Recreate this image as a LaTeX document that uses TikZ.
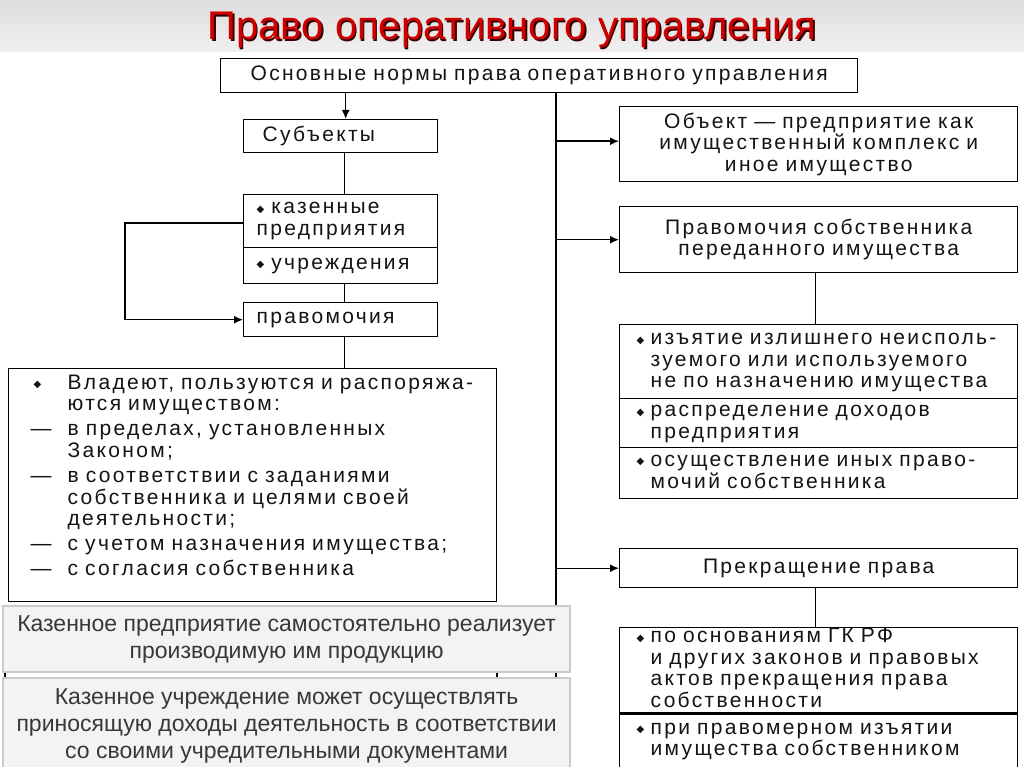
\documentclass[tikz,border=0pt]{standalone}
\usepackage{fontspec}
\usetikzlibrary{arrows.meta}
\newfontfamily\diag[LetterSpace=11]{Liberation Sans}
\newfontfamily\plainf{Liberation Sans}
\newfontfamily\djf{DejaVu Sans}
\newcommand\bul{\raisebox{1.5pt}{\djf\fontsize{10}{10}\selectfont ◆}}
\definecolor{titlered}{HTML}{D00000}
\definecolor{titleshadow}{HTML}{3A0000}
\definecolor{ovlfill}{HTML}{F3F3F3}
\definecolor{ovlline}{HTML}{CBCBCB}
\definecolor{ovltext}{HTML}{383838}
\begin{document}
\begin{tikzpicture}[x=1pt,y=-1pt,
  box/.style={draw, line width=1.4pt, anchor=north west, inner ysep=0pt,
    text=black!92, font=\diag\fontsize{21}{21.5}\selectfont},
  conn/.style={line width=1.4pt},
  arr/.style={line width=1.4pt, -{Latex[length=9pt,width=8pt]}},
  ovl/.style={draw=ovlline, fill=ovlfill, line width=2.2pt, anchor=north west,
    inner xsep=6pt, inner ysep=0pt, align=center, text=ovltext,
    font=\plainf\fontsize{23}{27}\selectfont},
  titlefont/.style={font=\plainf\fontsize{40}{44}\selectfont}
]
\useasboundingbox (0,0) rectangle (1024,767);
\clip (0,0) rectangle (1024,767);
\fill[white] (0,0) rectangle (1024,767);
\shade[top color=black!13, bottom color=black!6] (0,0) rectangle (1024,52);

% title
\node[titlefont, text=titleshadow] (titleshadow) at (513.5,31.5) {Право оперативного управления};
\node[titlefont, text=titlered] (title) at (512,30) {Право оперативного управления};

% top box
\node[box, text width=597pt, inner xsep=20pt, minimum height=34pt, align=center] (top) at (220,58)
  {Основные нормы права оперативного управления};

% left column
\node[box, text width=162pt, inner xsep=16pt, minimum height=33pt, align=left] (subj) at (243,119)
  {\hspace*{3pt}Субъекты};
\node[box, text width=168pt, inner xsep=13pt, minimum height=53pt, align=left] (kaz1) at (243,194)
  {\bul{} казенные\\предприятия};
\node[box, text width=168pt, inner xsep=13pt, minimum height=36pt, align=left] (kaz2) at (243,247)
  {\bul{} учреждения};
\node[box, text width=168pt, inner xsep=13pt, minimum height=34pt, align=left] (prav) at (243,302)
  {правомочия};

\node[box, text width=444pt, inner xsep=22pt, minimum height=233pt, align=left] (left) at (8,368)
  {\begin{tabular}{@{}p{37pt}@{}l@{}}
   \hspace*{3pt}\bul & Владеют, пользуются и распоряжа-\\
     & ются имуществом:\\[3.5pt]
   — & в пределах, установленных\\
     & Законом;\\[3.5pt]
   — & в соответствии с заданиями\\
     & собственника и целями своей\\
     & деятельности;\\[3.5pt]
   — & с учетом назначения имущества;\\[3pt]
   — & с согласия собственника\\[14pt]
   \end{tabular}};

% right column
\node[box, text width=370pt, inner xsep=14pt, minimum height=75pt, align=center] (obj) at (619,106)
  {Объект — предприятие как\\имущественный комплекс и\\иное имущество};
\node[box, text width=370pt, inner xsep=14pt, minimum height=66pt, align=center] (owner) at (619,206)
  {Правомочия собственника\\переданного имущества};

\node[box, text width=364pt, inner xsep=17pt, minimum height=74pt, align=left] (l1a) at (619,324)
  {\begin{tabular}{@{}p{14pt}@{}l@{}}
   \bul & изъятие излишнего неисполь-\\
        & зуемого или используемого\\
        & не по назначению имущества
   \end{tabular}};
\node[box, text width=364pt, inner xsep=17pt, minimum height=49pt, align=left] (l1b) at (619,398)
  {\begin{tabular}{@{}p{14pt}@{}l@{}}
   \bul & распределение доходов\\
        & предприятия
   \end{tabular}};
\node[box, text width=364pt, inner xsep=17pt, minimum height=51pt, align=left] (l1c) at (619,447)
  {\begin{tabular}{@{}p{14pt}@{}l@{}}
   \bul & осуществление иных право-\\
        & мочий собственника
   \end{tabular}};

\node[box, text width=370pt, inner xsep=14pt, minimum height=39pt, align=center] (term) at (619,548)
  {Прекращение права};

\node[box, text width=364pt, inner xsep=17pt, minimum height=85pt, align=left] (l2a) at (619,627)
  {\begin{tabular}{@{}p{14pt}@{}l@{}}
   \bul & по основаниям ГК РФ\\
        & и других законов и правовых\\
        & актов прекращения права\\
        & собственности
   \end{tabular}};
\node[box, text width=364pt, inner xsep=17pt, minimum height=56pt, align=left] (l2b) at (619,712)
  {\begin{tabular}{@{}p{14pt}@{}l@{}}
   \bul & при правомерном изъятии\\
        & имущества собственником
   \end{tabular}};

% connectors
\coordinate (trunkend) at (556,767);
\draw[arr] ([xshift=5pt]top.south -| subj.north) -- ([xshift=5pt]subj.north);
\draw[conn] ([xshift=4pt]subj.south) -- ([xshift=4pt]kaz1.north);
\draw[conn] ([xshift=4pt]kaz2.south) -- ([xshift=4pt]prav.north);
\draw[conn] ([xshift=4pt]prav.south) -- ([xshift=4pt]prav.south |- left.north);
\draw[arr] ([yshift=-2pt]kaz1.west) -- ++(-118,0) |- (prav.west);
\draw[conn] (top.south -| trunkend) -- (trunkend);
\draw[arr] ([yshift=3pt]obj.west -| trunkend) -- ([yshift=3pt]obj.west);
\draw[arr] (owner.west -| trunkend) -- (owner.west);
\draw[arr] (term.west -| trunkend) -- (term.west);
\draw[conn] ([xshift=-3pt]owner.south) -- ([xshift=-3pt]owner.south |- l1a.north);
\draw[conn] ([xshift=-3pt]term.south) -- ([xshift=-3pt]term.south |- l2a.north);

% box partly hidden below the notes
\draw[conn] (5,650) rectangle (497,800);

% notes on top
\node[ovl, minimum width=567pt, minimum height=66pt] (note1) at (2,605)
  {Казенное предприятие самостоятельно реализует\\производимую им продукцию};
\node[ovl, minimum width=567pt, minimum height=95pt] (note2) at (2,677)
  {Казенное учреждение может осуществлять\\приносящую доходы деятельность в соответствии\\со своими учредительными документами};
\end{tikzpicture}
\end{document}
